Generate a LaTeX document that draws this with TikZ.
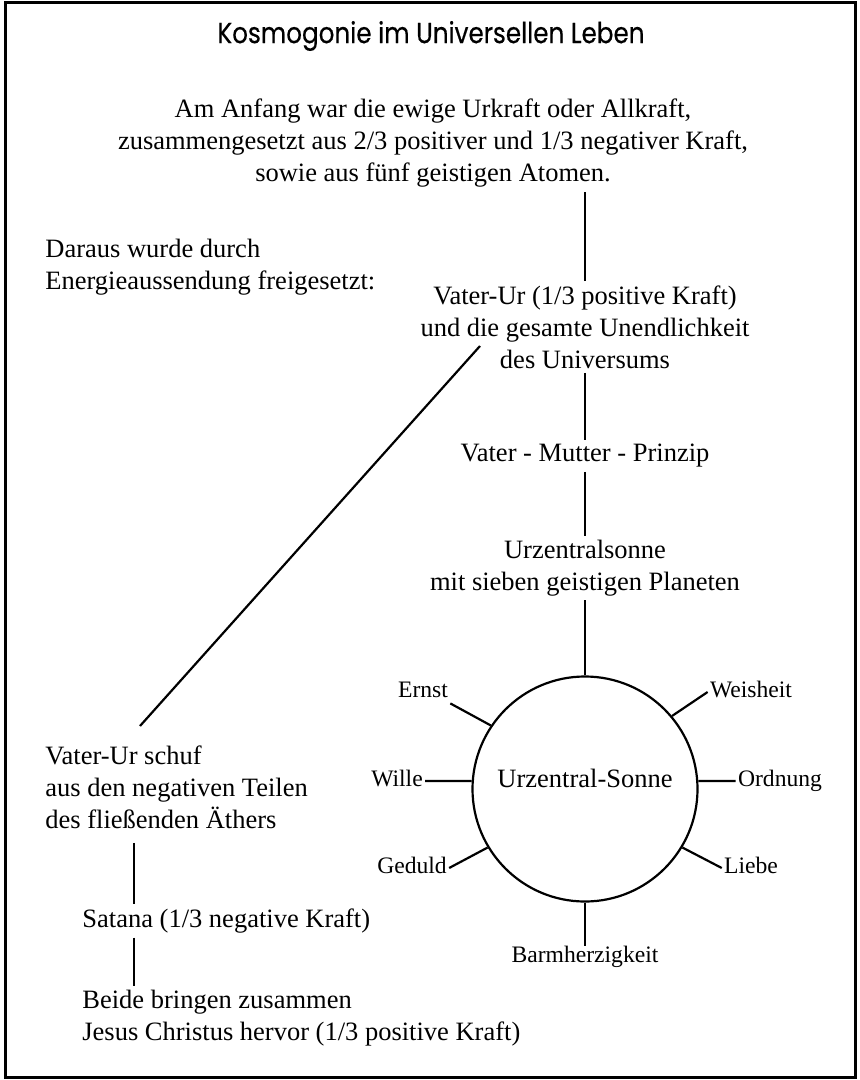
\documentclass[tikz,border=0pt]{standalone}
\usepackage{fontspec}
\setmainfont{Liberation Serif}
\newfontfamily\headfont{Poppins}[FakeStretch=0.85, FakeBold=0.4]
\usetikzlibrary{calc}

\tikzset{
  body/.style={font=\fontsize{13.25}{16}\selectfont, inner sep=2pt},
  planet/.style={font=\fontsize{11.8}{14}\selectfont, inner sep=1pt,
    text height=0.7em, text depth=0.2em},
  link/.style={line width=1.1pt},
}

\begin{document}
\begin{tikzpicture}[x=0.5pt, y=-0.5pt]
    \useasboundingbox (0, 0) rectangle (859, 1080);
    \draw [line width=1.5pt] (5, 3) rectangle (855, 1077);

    \node (title) at (431, 36) {\headfont\fontsize{14.5}{16}\selectfont Kosmogonie im Universellen Leben};

    \node [body, align=center] (anfang) at (433, 143) {Am Anfang war die ewige Urkraft oder Allkraft,\\
      zusammengesetzt aus 2/3 positiver und 1/3 negativer Kraft,\\
      sowie aus fünf geistigen Atomen.};
    \node [body, align=left, anchor=west] (daraus) at (41, 267) {Daraus wurde durch\\
      Energieaussendung freigesetzt:};
    \node [body, align=center] (vater) at (585, 327) {Vater-Ur (1/3 positive Kraft)\\
      und die gesamte Unendlichkeit\\
      des Universums};
    \node [body] (prinzip) at (585, 456) {Vater - Mutter - Prinzip};
    \node [body, align=center] (urzsonne) at (585, 568) {Urzentralsonne\\
      mit sieben geistigen Planeten};

    \node [circle, draw, link, minimum size=112.5pt, inner sep=0pt] (sun) at (585, 789) {};
    \node [body] (sunname) at (585, 778) {Urzentral-Sonne};

    \node [planet] (ernst) at (423, 692) {Ernst};
    \node [planet] (weisheit) at (751, 692) {Weisheit};
    \node [planet] (wille) at (397, 781) {Wille};
    \node [planet] (ordnung) at (780, 781) {Ordnung};
    \node [planet] (geduld) at (412, 868) {Geduld};
    \node [planet] (liebe) at (751, 868) {Liebe};
    \node [planet] (barm) at (585, 957) {Barmherzigkeit};

    \node [body, align=left, anchor=west] (schuf) at (41, 787) {Vater-Ur schuf\\
      aus den negativen Teilen\\
      des fließenden Äthers};
    \node [body, anchor=west] (satana) at (78, 921) {Satana (1/3 negative Kraft)};
    \node [body, align=left, anchor=west] (beide) at (78, 1018) {Beide bringen zusammen\\
      Jesus Christus hervor (1/3 positive Kraft)};

    \draw [link] (vater.north) -- (vater.north |- anfang.south);
    \draw [link] (vater.south) -- (prinzip.north);
    \draw [link] (prinzip.south) -- (urzsonne.north);
    \draw [link] (urzsonne.south) -- (sun.north);

    \foreach \ang/\nm/\anc in {146/ernst/south east, 40/weisheit/west,
      176/wille/east, 4/ordnung/west, 211/geduld/east, 329/liebe/west,
      270/barm/north} {
      \draw [link] (sun.\ang) -- (\nm.\anc);
    }

    \coordinate (diagtop) at (480, 346);
    \coordinate (diagfoot) at (140, 726);
    \draw [link] (diagtop) -- (diagfoot);

    \coordinate (stem) at (134, 0);
    \draw [link, shorten <=5pt] (stem |- schuf.south) -- (stem |- satana.north);
    \draw [link] (stem |- satana.south) -- (stem |- beide.north);
  \end{tikzpicture}
\end{document}
